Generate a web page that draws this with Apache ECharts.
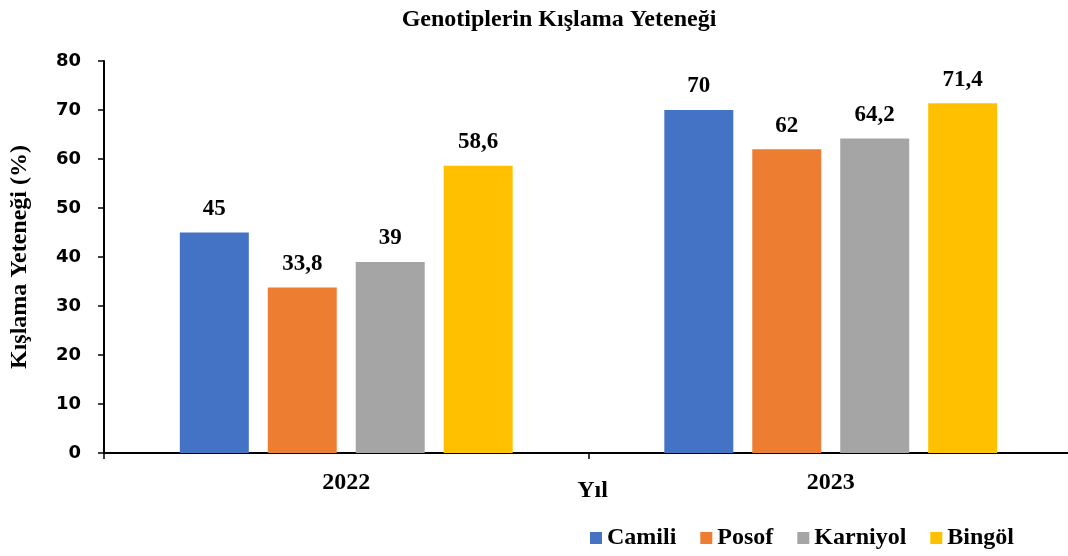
<!DOCTYPE html>
<html>
<head>
<meta charset="utf-8">
<script src="https://cdn.jsdelivr.net/npm/echarts@6/dist/echarts.min.js"></script>
<style>
  html, body { margin: 0; padding: 0; background: #fff; }
  #chart { width: 1068px; height: 556px; }
</style>
</head>
<body>
<div id="chart"></div>
<script>
// yıllar ve genotipler
const years = ['2022', '2023']
const genotypes = ['Camili', 'Posof', 'Karniyol', 'Bingöl']
const colors = ['#4472C4', '#ED7D31', '#A5A5A5', '#FFC000']
// her genotip için yıllara göre kışlama yeteneği (%)
const camili = [45, 70]
const posof = [33.8, 62]
const karniyol = [39, 64.2]
const bingol = [58.6, 71.4]
const seriesValues = [camili, posof, karniyol, bingol]

const serif = '"Liberation Serif", "Times New Roman", serif'
const sans = '"DejaVu Sans", Verdana, sans-serif'

const chart = echarts.init(document.getElementById('chart'))
const option = {
  animation: false,
  title: {
    text: 'Genotiplerin Kışlama Yeteneği',
    left: 554,
    top: 3,
    textAlign: 'center',
    textStyle: { fontFamily: serif, fontWeight: 'bold', fontSize: 24, color: '#000' }
  },
  grid: { left: 104, right: -5, top: 61, bottom: 103, outerBoundsMode: 'none' },
  legend: {
    data: genotypes,
    right: 49,
    bottom: 1,
    icon: 'rect',
    itemWidth: 12,
    itemHeight: 12,
    itemGap: 24,
    textStyle: { fontFamily: serif, fontWeight: 'bold', fontSize: 24, color: '#000' }
  },
  xAxis: {
    type: 'category',
    data: years,
    name: 'Yıl',
    nameLocation: 'middle',
    nameGap: 26,
    nameMoveOverlap: false,
    nameTextStyle: { fontFamily: serif, fontWeight: 'bold', fontSize: 24, color: '#000', padding: [0, 0, 0, 8] },
    axisLine: { lineStyle: { color: '#000', width: 2 } },
    axisTick: { show: true, inside: false, length: 6, lineStyle: { color: '#000', width: 1.5 } },
    axisLabel: { margin: 18, fontFamily: serif, fontWeight: 'bold', fontSize: 24, color: '#000' }
  },
  yAxis: {
    type: 'value',
    min: 0,
    max: 80,
    interval: 10,
    name: 'Kışlama Yeteneği (%)',
    nameLocation: 'middle',
    nameGap: 72,
    nameTextStyle: { fontFamily: serif, fontWeight: 'bold', fontSize: 24, color: '#000' },
    axisLine: { show: true, lineStyle: { color: '#000', width: 2 } },
    axisTick: { show: true, inside: false, length: 6, lineStyle: { color: '#000', width: 1.5 } },
    splitLine: { show: false },
    axisLabel: { margin: 23, fontFamily: sans, fontWeight: 'bold', fontSize: 18, color: '#000' }
  },
  series: genotypes.map((name, i) => ({
    name: name,
    type: 'bar',
    data: seriesValues[i],
    barGap: '27.5%',
    barCategoryGap: '31.3%',
    itemStyle: { color: colors[i] },
    label: {
      show: true,
      position: 'top',
      distance: 12,
      fontFamily: serif,
      fontWeight: 'bold',
      fontSize: 23,
      color: '#000',
      formatter: (p) => String(p.value).replace('.', ',')
    }
  }))
}
chart.setOption(option)
</script>
</body>
</html>
